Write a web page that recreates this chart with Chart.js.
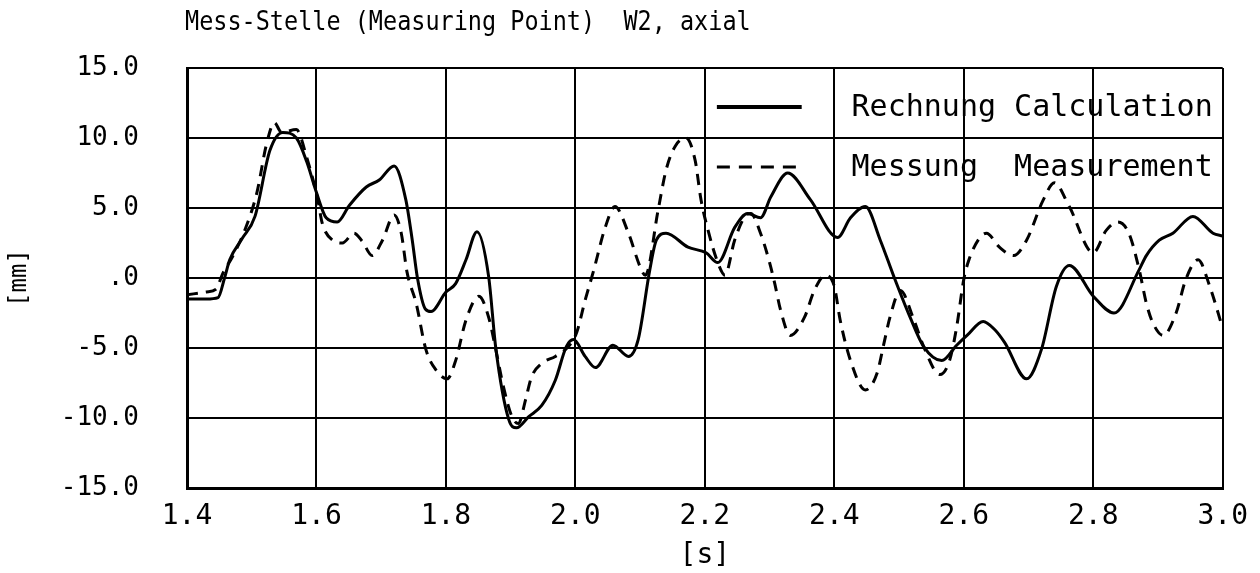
<!DOCTYPE html>
<html>
<head>
<meta charset="utf-8">
<script src="https://cdn.jsdelivr.net/npm/chart.js@4/dist/chart.umd.min.js"></script>
<style>
html,body{margin:0;padding:0;background:#fff;}
#wrap{width:1260px;height:573px;position:relative;}
</style>
</head>
<body>
<div id="wrap"><canvas id="c" width="1260" height="573"></canvas></div>
<script>
// ---- data ----
const titleText = "Mess-Stelle (Measuring Point)  W2, axial";
const xTitle = "[s]";
const yTitle = "[mm]";
const legendCalc = "Rechnung Calculation";
const legendMeas = "Messung  Measurement";

const xTickValues = [1.4, 1.6, 1.8, 2.0, 2.2, 2.4, 2.6, 2.8, 3.0];
const yTickValues = [-15, -10, -5, 0, 5, 10, 15];

const calcX = [1.400,1.430,1.448,1.458,1.466,1.485,1.505,1.528,1.548,1.569,1.585,1.600,1.615,1.632,1.651,1.677,1.697,1.720,1.738,1.748,1.756,1.768,1.777,1.800,1.815,1.831,1.848,1.866,1.877,1.897,1.909,1.928,1.948,1.969,1.986,1.997,2.015,2.031,2.058,2.082,2.097,2.115,2.125,2.140,2.174,2.202,2.220,2.246,2.266,2.286,2.302,2.328,2.363,2.405,2.425,2.448,2.471,2.492,2.517,2.538,2.566,2.589,2.605,2.630,2.648,2.663,2.697,2.720,2.743,2.763,2.800,2.832,2.871,2.882,2.902,2.923,2.954,2.985,3.000];
const calcY = [-1.5,-1.5,-1.4,0.0,1.3,2.8,4.4,9.1,10.4,10.0,8.3,6.1,4.3,4.0,5.2,6.5,7.0,8.0,5.6,2.7,0.0,-2.2,-2.4,-1.0,-0.4,1.3,3.3,0.1,-5.0,-10.1,-10.7,-9.9,-9.1,-7.3,-4.9,-4.4,-5.6,-6.4,-4.8,-5.6,-4.4,0.6,2.7,3.2,2.2,1.8,1.1,3.6,4.6,4.3,5.8,7.5,5.6,2.9,4.3,5.1,2.7,0.1,-2.8,-4.9,-5.9,-4.8,-4.1,-3.1,-3.7,-4.6,-7.2,-5.1,-0.6,0.9,-1.3,-2.5,0.6,1.6,2.7,3.2,4.4,3.2,3.0];

const measX = [1.400,1.430,1.445,1.455,1.470,1.490,1.508,1.523,1.535,1.546,1.569,1.585,1.602,1.609,1.625,1.640,1.658,1.671,1.686,1.702,1.720,1.731,1.740,1.754,1.769,1.785,1.802,1.815,1.831,1.851,1.866,1.877,1.889,1.902,1.912,1.923,1.932,1.948,1.969,1.989,2.002,2.015,2.028,2.046,2.061,2.082,2.100,2.108,2.128,2.140,2.154,2.171,2.185,2.194,2.205,2.220,2.231,2.246,2.262,2.271,2.286,2.300,2.308,2.317,2.332,2.354,2.369,2.386,2.400,2.409,2.425,2.448,2.466,2.477,2.486,2.502,2.523,2.538,2.563,2.578,2.589,2.600,2.608,2.625,2.635,2.655,2.677,2.697,2.723,2.740,2.763,2.800,2.820,2.838,2.855,2.871,2.882,2.892,2.908,2.928,2.943,2.962,2.980,3.000];
const measY = [-1.2,-1.0,-0.8,0.3,1.5,3.5,6.1,9.6,11.1,10.4,10.6,8.6,5.6,3.9,2.7,2.5,3.2,2.6,1.6,2.7,4.5,3.2,0.4,-1.8,-5.1,-6.6,-7.2,-5.9,-3.0,-1.3,-2.8,-5.1,-7.8,-9.9,-10.4,-8.7,-7.1,-6.1,-5.6,-4.9,-3.9,-1.6,0.5,3.6,5.1,3.2,0.8,0.2,4.9,7.7,9.4,10.0,8.4,5.6,3.4,1.1,0.2,2.7,4.4,4.6,3.2,1.1,-0.4,-2.3,-4.1,-2.8,-0.9,0.2,-0.6,-3.0,-5.9,-8.0,-6.8,-4.6,-2.8,-0.9,-3.0,-4.9,-6.9,-5.9,-3.5,-0.1,1.3,2.9,3.2,2.2,1.6,2.7,5.6,6.8,5.1,1.8,3.4,4.0,3.2,0.6,-1.8,-3.2,-4.1,-2.5,-0.1,1.3,-0.6,-3.6];

// ---- chart ----
const FONT = "'DejaVu Sans Mono', 'Liberation Mono', monospace";
const toPts = (xs, ys) => xs.map((x, i) => ({x: x, y: ys[i]}));

// title drawn as real canvas text, slightly narrowed like the plotter font
const titlePlugin = {
  id: 'plotTitle',
  afterDraw(chart) {
    const ctx = chart.ctx, a = chart.chartArea;
    ctx.save();
    ctx.font = "27px " + FONT;
    ctx.fillStyle = '#000';
    ctx.textBaseline = 'middle';
    ctx.textAlign = 'left';
    ctx.translate(a.left - 2, a.top - 45);
    ctx.scale(0.87, 1);
    ctx.fillText(titleText, 0, 0);
    ctx.restore();
  }
};

const legendPlugin = {
  id: 'innerLegend',
  afterDatasetsDraw(chart) {
    const ctx = chart.ctx, a = chart.chartArea;
    const w = a.right - a.left, h = a.bottom - a.top;
    const x0 = a.left + 0.5116 * w, x1 = a.left + 0.5935 * w, xt = a.left + 0.6416 * w;
    const rows = [
      {y: a.top + 0.093 * h, text: legendCalc, dash: [], lw: 4},
      {y: a.top + 0.236 * h, text: legendMeas, dash: [13, 9], lw: 3}
    ];
    ctx.save();
    rows.forEach(r => {
      ctx.beginPath();
      ctx.setLineDash(r.dash);
      ctx.lineWidth = r.lw;
      ctx.strokeStyle = '#000';
      ctx.moveTo(x0, r.y); ctx.lineTo(x1, r.y);
      ctx.stroke();
      ctx.setLineDash([]);
      ctx.fillStyle = '#000';
      ctx.font = "30px " + FONT;
      ctx.textBaseline = 'middle';
      ctx.textAlign = 'left';
      ctx.fillText(r.text, xt, r.y + 1);
    });
    ctx.restore();
  }
};

const bgPlugin = {
  id: 'bg',
  beforeDraw(chart) {
    const ctx = chart.ctx;
    ctx.save(); ctx.fillStyle = '#fff'; ctx.fillRect(0, 0, chart.width, chart.height); ctx.restore();
  }
};

new Chart(document.getElementById('c'), {
  type: 'line',
  data: {
    datasets: [
      {label: legendCalc, data: toPts(calcX, calcY), borderColor: '#000', borderWidth: 3,
       pointRadius: 0, cubicInterpolationMode: 'monotone', fill: false},
      {label: legendMeas, data: toPts(measX, measY), borderColor: '#000', borderWidth: 3,
       borderDash: [11, 8], pointRadius: 0, cubicInterpolationMode: 'monotone', fill: false}
    ]
  },
  options: {
    responsive: false,
    animation: false,
    events: [],
    layout: {padding: {left: 0, right: 35, top: 68, bottom: 0}},
    plugins: {
      legend: {display: false},
      tooltip: {enabled: false},
      title: {display: false}
    },
    scales: {
      x: {
        type: 'linear', min: 1.4, max: 3.0,
        afterBuildTicks: s => { s.ticks = xTickValues.map(v => ({value: v})); },
        afterFit: s => { s.height = 85; },
        ticks: {color: '#000', padding: 12, autoSkip: false, maxRotation: 0,
                font: {family: FONT, size: 28}, callback: v => Number(v).toFixed(1)},
        grid: {color: '#000', lineWidth: 2, drawTicks: false},
        border: {display: true, color: '#000', width: 3},
        title: {display: true, text: xTitle, color: '#000', font: {family: FONT, size: 28}, padding: {top: 6, bottom: 0}}
      },
      y: {
        type: 'linear', min: -15, max: 15,
        afterBuildTicks: s => { s.ticks = yTickValues.map(v => ({value: v})); },
        afterFit: s => { s.width = 187; },
        ticks: {color: '#000', padding: 48, font: {family: FONT, size: 26},
                callback: v => v === 0 ? '.0' : Number(v).toFixed(1)},
        grid: {color: '#000', lineWidth: 2, drawTicks: false},
        border: {display: true, color: '#000', width: 3},
        title: {display: true, text: yTitle, color: '#000', font: {family: FONT, size: 24}, padding: {top: 5, bottom: 0}}
      }
    }
  },
  plugins: [bgPlugin, legendPlugin, titlePlugin]
});
</script>
</body>
</html>
